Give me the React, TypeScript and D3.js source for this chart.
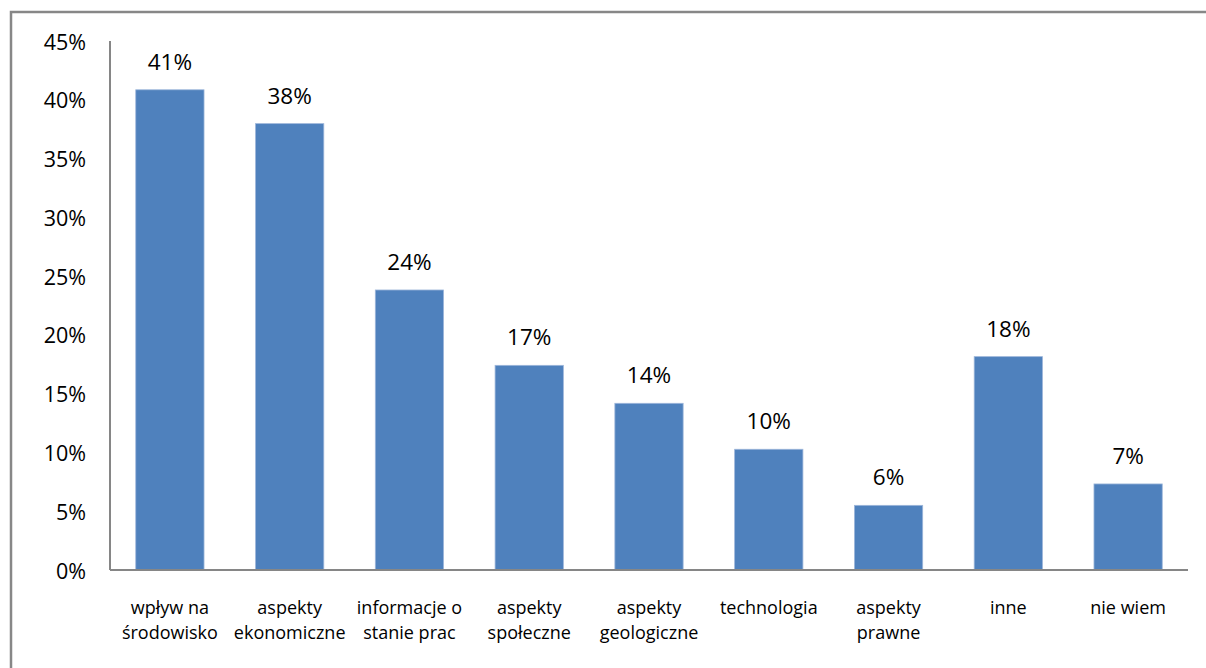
import React from "react";
import * as d3 from "d3";

const categories: string[][] = [
  ["wpływ na", "środowisko"],
  ["aspekty", "ekonomiczne"],
  ["informacje o", "stanie prac"],
  ["aspekty", "społeczne"],
  ["aspekty", "geologiczne"],
  ["technologia"],
  ["aspekty", "prawne"],
  ["inne"],
  ["nie wiem"],
];
const values: number[] = [40.85, 37.97, 23.82, 17.41, 14.18, 10.27, 5.5, 18.15, 7.32];
const yTicks: number[] = [0, 5, 10, 15, 20, 25, 30, 35, 40, 45];

const W = 1206;
const H = 668;
const FONT = "'Open Sans', 'Liberation Sans', sans-serif";

export default function App() {
  const left = 110;
  const right = 1188;
  const top = 41;
  const bottom = 570;

  const keys = categories.map((_, i) => String(i));
  const x = d3
    .scaleBand<string>()
    .domain(keys)
    .range([left, right])
    .paddingInner(0.43)
    .paddingOuter(0.215);
  const y = d3.scaleLinear().domain([0, 45]).range([bottom, top]);

  return (
    <svg
      width={W}
      height={H}
      style={{ position: "absolute", left: 0, top: 0, background: "#fff" }}
      fontFamily={FONT}
    >
      <rect x={0} y={0} width={W} height={H} fill="#fff" />
      <rect
        x={11}
        y={12}
        width={W + 20}
        height={H + 20}
        fill="none"
        stroke="#878787"
        strokeWidth={2.5}
      />
      {/* y tick labels */}
      {yTicks.map((t) => (
        <text
          key={t}
          x={86}
          y={y(t)}
          textAnchor="end"
          dominantBaseline="central"
          fontSize={21.5}
          fill="#000"
        >
          {t + "%"}
        </text>
      ))}
      {/* bars */}
      {values.map((v, i) => (
        <rect
          key={i}
          x={x(String(i))!}
          y={y(v)}
          width={x.bandwidth()}
          height={y(0) - y(v)}
          fill="#4F81BD"
          stroke="#9DB6DA"
          strokeWidth={0.8}
        />
      ))}
      {/* value labels */}
      {values.map((v, i) => (
        <text
          key={"v" + i}
          x={x(String(i))! + x.bandwidth() / 2}
          y={y(v) - 20}
          textAnchor="middle"
          fontSize={22.5}
          fill="#000"
        >
          {Math.round(v) + "%"}
        </text>
      ))}
      {/* axes */}
      <line x1={left} x2={left} y1={top} y2={bottom} stroke="#868686" strokeWidth={2} />
      <line x1={left} x2={right} y1={bottom} y2={bottom} stroke="#868686" strokeWidth={2} />
      {/* category labels */}
      {categories.map((lines, i) => (
        <text
          key={"c" + i}
          x={x(String(i))! + x.bandwidth() / 2}
          y={614}
          textAnchor="middle"
          fontSize={18}
          fill="#000"
        >
          {lines.map((l, j) => (
            <tspan key={j} x={x(String(i))! + x.bandwidth() / 2} dy={j === 0 ? 0 : 25}>
              {l}
            </tspan>
          ))}
        </text>
      ))}
    </svg>
  );
}
